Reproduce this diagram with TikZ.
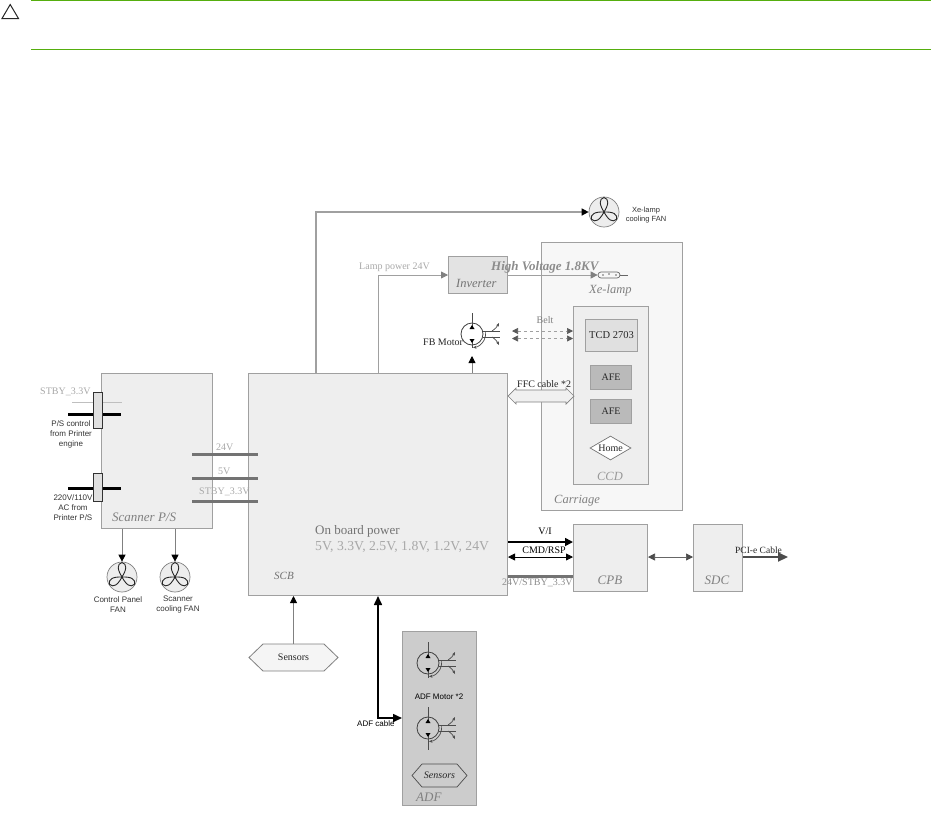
\documentclass[tikz,border=0pt]{standalone}
\usepackage{fontspec}
\setmainfont{Liberation Serif}
\setsansfont{Liberation Sans}
\usetikzlibrary{arrows.meta,shapes.geometric,shapes.misc,calc}
\definecolor{boxfill}{HTML}{EEEEEE}
\definecolor{boxline}{HTML}{A0A0A0}
\definecolor{txtgray}{HTML}{A8A8A8}
\definecolor{itgray}{HTML}{808080}
\definecolor{hpgreen}{HTML}{55AE0E}
\newcommand{\fsz}[1]{\fontsize{#1pt}{#1pt}\selectfont}
\tikzset{
  x=1pt,y=-1pt,
  box/.style={draw=boxline,fill=boxfill,line width=1pt,inner sep=0pt,anchor=north west},
  lbl/.style={inner sep=0pt,font=\fsz{10},text=txtgray},
  ital/.style={inner sep=0pt,font=\fsz{12.5}\itshape,text=itgray},
  small/.style={inner sep=0pt,font=\sffamily\fsz{8},text=black!80,align=center},
  dark/.style={inner sep=0pt,font=\fsz{10},text=black!85},
  fanc/.style={circle,draw=gray,fill=black!7,line width=.7pt,minimum size=30pt,inner sep=0pt},
  motc/.style={circle,draw=black!75,line width=.8pt,minimum size=22pt,inner sep=0pt},
  tip/.style={-{Triangle[length=7pt,width=7pt,color=black,fill=black]}},
  tips/.style={{Triangle[length=7pt,width=7pt]}-{Triangle[length=7pt,width=7pt]}},
  gline/.style={draw=gray,line width=.8pt},
  bar/.style={draw=black!55,line width=3pt},
  blackbar/.style={draw=black,line width=3pt},
}
\newcommand{\fanblades}[1]{%
  \foreach \a in {-90,30,150}{%
    \draw[black!85,line width=.9pt] (#1.center) .. controls ($(#1.center)+(\a+32:9)$) and ($(#1.center)+(\a+22:14)$) .. ($(#1.center)+(\a:14.5)$) .. controls ($(#1.center)+(\a-22:14)$) and ($(#1.center)+(\a-32:9)$) .. (#1.center);
  }}
\newcommand{\motorparts}[2]{%
  \draw[black!70,line width=.6pt] ($(#1.center)+(0,-21)$) -- ($(#1.center)+(0,-8)$);
  \draw[black!70,line width=.6pt] ($(#1.center)+(0,8)$) -- ($(#1.center)+(0,#2)$);
  \fill[black] ($(#1.center)+(-2.5,-5)$) -- ++(5,0) -- ++(-2.5,-4) -- cycle;
  \fill[black] ($(#1.center)+(-2.5,5)$) -- ++(5,0) -- ++(-2.5,4) -- cycle;
  \draw[black!70,line width=.7pt] ($(#1.center)+(10.5,-3)$) -- ++(17,0) ($(#1.center)+(10.5,3)$) -- ++(17,0);
  \draw[black!70,line width=.7pt,-{Stealth[length=3.5pt,width=3pt]}] ($(#1.center)+(20,-3)$) to[bend right=15] ($(#1.center)+(27,-11)$);
  \draw[black!70,line width=.7pt,-{Stealth[length=3.5pt,width=3pt]}] ($(#1.center)+(20,3)$) to[bend left=15] ($(#1.center)+(27,11)$);
  \draw[black!70,line width=.7pt,{Stealth[length=3.5pt,width=3pt]}-] ($(#1.center)+(1,13.5)$) arc[start angle=86,end angle=-10,radius=13.5];
}
\begin{document}
\begin{tikzpicture}
\useasboundingbox (0,0) rectangle (931,817);
% header
\coordinate (gl1) at (31,0.8); \coordinate (gr1) at (931,0.8);
\coordinate (gl2) at (31,49.5); \coordinate (gr2) at (931,49.5);
\draw[hpgreen,line width=.9pt] (gl1) -- (gr1);
\draw[hpgreen,line width=.8pt] (gl2) -- (gr2);
\draw[black!85,line width=1pt,line join=miter] (2,18.5) -- (18.5,18.5) -- (10.2,4.5) -- cycle;
% boxes
\node[box,fill=black!3,minimum width=141pt,minimum height=268pt] (carriage) at (541,242) {};
\node[box,minimum width=75pt,minimum height=178pt] (ccd) at (573,306) {};
\node[box,fill=black!12,minimum width=52pt,minimum height=32pt,font=\fsz{10.5},text=black!85] (tcd) at (585,319) {TCD 2703};
\node[box,fill=black!27,minimum width=41pt,minimum height=24pt,font=\fsz{10},text=black!85] (afea) at (590,365) {AFE};
\node[box,fill=black!27,minimum width=41pt,minimum height=24pt,font=\fsz{10},text=black!85] (afeb) at (590,399) {AFE};
\node[diamond,draw=black!55,fill=white,aspect=1.7,inner sep=0pt,minimum width=41pt,minimum height=24pt,line width=.7pt,font=\fsz{10},text=black!85] (home) at (610.5,448) {Home};
\node[box,minimum width=259pt,minimum height=222pt] (sce) at (248,373) {};
\node[box,minimum width=111pt,minimum height=155pt] (psu) at (101,373) {};
\node[box,fill=black!11,minimum width=59pt,minimum height=37pt] (inv) at (448,256) {};
\node[box,minimum width=74pt,minimum height=67pt] (cpb) at (573,524) {};
\node[box,minimum width=49pt,minimum height=67pt] (sdc) at (693,524) {};
\node[box,fill=black!20,minimum width=74pt,minimum height=174pt] (adf) at (402,631) {};
% sensors hexagons
\draw[gray,fill=black!4,line width=.8pt] (249,657.5) -- (263,644) -- (324,644) -- (338,657.5) -- (324,671) -- (263,671) -- cycle;
\node[inner sep=0pt,minimum width=89pt,minimum height=27pt,font=\fsz{10},text=black!85] (sens) at (293.5,657.5) {Sensors};
\draw[black!70,line width=.7pt] (412,775.5) -- (422,764) -- (457,764) -- (467,775.5) -- (457,787) -- (422,787) -- cycle;
\node[inner sep=0pt,minimum width=55pt,minimum height=23pt,font=\fsz{10}\itshape,text=black!85] (asens) at (439.5,775.5) {Sensors};
% fans
\node[fanc] (fx) at (604,212) {}; \fanblades{fx}
\node[fanc] (fc) at (122,577) {}; \fanblades{fc}
\node[fanc] (fs) at (175,577) {}; \fanblades{fs}
% motors
\node[motc] (mfb) at (472,334) {}; \motorparts{mfb}{14}
\node[motc] (ma) at (428,663) {}; \motorparts{ma}{15}
\node[motc] (mb) at (428,728) {}; \motorparts{mb}{22}
% lamp
\node[rounded rectangle,draw=black!60,line width=.7pt,minimum width=22pt,minimum height=6pt,inner sep=0pt] (lamp) at (609,275) {};
\coordinate (lampend) at (628,275);
\draw[black!60,line width=.6pt] (lamp.east) -- (lampend);
\fill[black!60] (603,275) circle (.8) (609,274) circle (.8) (616,275) circle (.8);
% connectors
\coordinate (c1) at (316,373);
\draw[boxline,line width=1.4pt,-{Triangle[length=7pt,width=7pt,color=black,fill=black]}] (c1) |- (fx.west);
\coordinate (c2) at (378,373);
\draw[boxline,line width=.8pt,-{Triangle[length=7pt,width=7pt,color=gray,fill=gray]}] (c2) |- (inv.west);
\draw[boxline,line width=.8pt,-{Triangle[length=7pt,width=7pt,color=gray,fill=gray]}] (inv.east) -- (lamp.west);
\coordinate (mtip) at (472,356);
\draw[gline,tip] (mfb|-sce.north) -- (mtip);
\coordinate (bl1) at (512,331); \coordinate (br1) at (573,331);
\coordinate (bl2) at (512,338.5); \coordinate (br2) at (573,338.5);
\draw[boxline,dashed,line width=.7pt,{Triangle[length=6pt,width=6pt,color=black!65,fill=black!65]}-{Triangle[length=6pt,width=6pt,color=black!65,fill=black!65]}] (bl1) -- (br1);
\draw[boxline,dashed,line width=.7pt,{Triangle[length=6pt,width=6pt,color=black!65,fill=black!65]}-{Triangle[length=6pt,width=6pt,color=black!65,fill=black!65]}] (bl2) -- (br2);
% FFC block arrow between SCB and CCD
\coordinate (fl) at (508,396); \coordinate (fr) at (574,396);
\draw[draw=gray,fill=black!6,line width=.7pt,line join=miter] (fl) -- ++(8,-8) -- ++(0,2) -- ($(fr)+(-8,-6)$) -- ++(0,-2) -- (fr) -- ++(-8,8) -- ++(0,-2) -- ($(fl)+(8,6)$) -- ++(0,2) -- cycle;
% CPB links
\coordinate (y1) at (0,542); \coordinate (y2) at (0,557); \coordinate (y3) at (0,576);
\draw[black,line width=1.7pt,-{Triangle[length=8pt,width=8pt]}] (sce.east|-y1) -- (cpb.west|-y1);
\draw[black,line width=.8pt,tips] (sce.east|-y2) -- (cpb.west|-y2);
\draw[bar] (sce.east|-y3) -- (cpb.west|-y3);
\draw[black!60,line width=.7pt,{Triangle[length=7pt,width=7pt,color=black!70,fill=black!70]}-{Triangle[length=7pt,width=7pt,color=black!70,fill=black!70]}] (cpb.east|-y2) -- (sdc.west|-y2);
\coordinate (pcie) at (788,557);
\draw[black!70,line width=2pt,-{Triangle[length=10pt,width=9pt]}] (sdc.east|-y2) -- (pcie);
% power bars
\coordinate (p1) at (192,454.5); \coordinate (q1) at (258,454.5);
\coordinate (p2) at (192,478); \coordinate (q2) at (258,478);
\coordinate (p3) at (192,501.5); \coordinate (q3) at (258,501.5);
\draw[bar] (p1) -- (q1); \draw[bar] (p2) -- (q2); \draw[bar] (p3) -- (q3);
% left inputs
\coordinate (sl) at (72,402); \coordinate (sr) at (122,402);
\draw[black!25,line width=.5pt] (sl) -- (sr);
\coordinate (b1) at (68,414); \coordinate (b2) at (121,414);
\coordinate (b3) at (68,488); \coordinate (b4) at (121,488);
\draw[blackbar] (b1) -- (b2); \draw[blackbar] (b3) -- (b4);
\node[box,draw=black!80,fill=black!12,minimum width=9pt,minimum height=36pt] (cn1) at (93,392) {};
\node[box,draw=black!80,fill=black!12,minimum width=9pt,minimum height=28pt] (cn2) at (93,473) {};
% fans links
\draw[gline,tip] (fc|-psu.south) -- (fc.north);
\draw[gline,tip] (fs|-psu.south) -- (fs.north);
% sensors, adf
\draw[gline,tip] (sens.north) -- (sens|-sce.south);
\coordinate (ac) at (378,718);
\draw[black,line width=1.6pt,{Triangle[length=9pt,width=8pt]}-{Triangle[length=9pt,width=8pt]}] (ac|-sce.south) -- (ac) -- (adf.west|-ac);
% labels
\node[lbl,anchor=west] at (359,267) {Lamp power 24V};
\node[inner sep=0pt,anchor=west,font=\fsz{13}\itshape\bfseries,text=black!45] at (491,267) {High Voltage 1.8KV};
\node[ital,anchor=west,text=black!55] at (456,283) {Inverter};
\node[ital,anchor=west] at (589,290) {Xe-lamp};
\node[dark,anchor=west] at (423,342) {FB Motor};
\node[lbl,anchor=center,text=black!50] at (545,320) {Belt};
\node[dark,anchor=west] at (517,384.5) {FFC cable *2};
\node[ital,anchor=center,text=black!40] at (610,476) {CCD};
\node[ital,anchor=west] at (554,501) {Carriage};
\node[small,anchor=center,font=\sffamily\fsz{7.5}] at (646,215) {Xe-lamp\\[1pt]cooling FAN};
\node[lbl,anchor=west] at (40,392) {STBY\_3.3V};
\node[small,anchor=center] at (71,434) {P/S control\\[2pt]from Printer\\[2pt]engine};
\node[small,anchor=center] at (73,508) {220V/110V\\[2pt]AC from\\[2pt]Printer P/S};
\node[ital,anchor=west,font=\fsz{13}\itshape] at (112,517) {Scanner P/S};
\node[lbl,anchor=west] at (216,447) {24V};
\node[lbl,anchor=west] at (218,471) {5V};
\node[lbl,anchor=west] at (199,492) {STBY\_3.3V};
\node[small,anchor=center] at (118,605) {Control Panel\\[2pt]FAN};
\node[small,anchor=center] at (178,605) {Scanner\\[2pt]cooling FAN};
\node[inner sep=0pt,anchor=west,font=\fsz{13},text=black!55] at (315,531) {On board power};
\node[inner sep=0pt,anchor=west,font=\fsz{13.7},text=txtgray] at (315,547) {5V, 3.3V, 2.5V, 1.8V, 1.2V, 24V};
\node[ital,anchor=west,font=\fsz{11}\itshape,text=black!55] at (274,576) {SCB};
\node[dark,anchor=center,text=black] at (545,531) {V/I};
\node[dark,anchor=center,text=black] at (544,550) {CMD/RSP};
\node[lbl,anchor=west,text=black!45] at (502,583) {24V/STBY\_3.3V};
\node[ital,anchor=center,font=\fsz{13}\itshape] at (610,580) {CPB};
\node[ital,anchor=center,font=\fsz{13}\itshape] at (717,580) {SDC};
\node[dark,anchor=west,font=\fsz{9.5}] at (735,550) {PCI-e Cable};
\node[small,anchor=center,text=black] at (439,697) {ADF Motor *2};
\node[small,anchor=west,text=black] at (357,724) {ADF cable};
\node[ital,anchor=west,font=\fsz{13}\itshape] at (416,797) {ADF};
\end{tikzpicture}
\end{document}
